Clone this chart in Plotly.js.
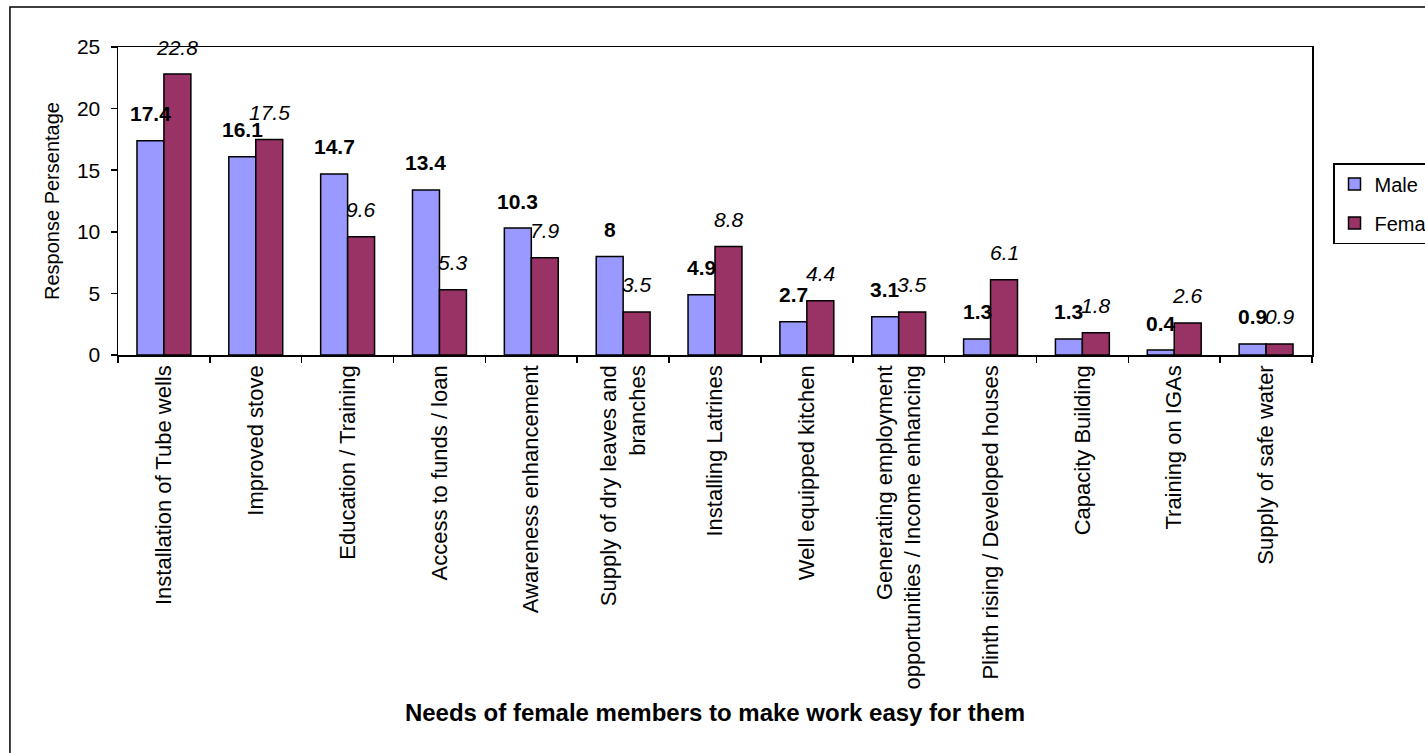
<!DOCTYPE html>
<html>
<head>
<meta charset="utf-8">
<script src="https://cdn.plot.ly/plotly-3.0.1.min.js"></script>
<style>html,body{margin:0;padding:0;background:#fff;}#chart{width:1425px;height:753px;}</style>
</head>
<body>
<div id="chart"></div>
<script>
var categories = [
  "Installation of Tube wells",
  "Improved stove",
  "Education / Training",
  "Access to funds / loan",
  "Awareness enhancement",
  "Supply of dry leaves and<br>branches",
  "Installing Latrines",
  "Well equipped kitchen",
  "Generating employment<br>opportunities / Income enhancing",
  "Plinth rising / Developed houses",
  "Capacity Building",
  "Training on IGAs",
  "Supply of safe water"
];
var maleValues   = [17.4, 16.1, 14.7, 13.4, 10.3, 8, 4.9, 2.7, 3.1, 1.3, 1.3, 0.4, 0.9];
var femaleValues = [22.8, 17.5, 9.6, 5.3, 7.9, 3.5, 8.8, 4.4, 3.5, 6.1, 1.8, 2.6, 0.9];
var yTicks = [0, 5, 10, 15, 20, 25];

var FONT = "'Liberation Sans', Arial, sans-serif";

var traces = [
  {type: "bar", name: "Male", x: categories, y: maleValues, legendgroup: "m",
   marker: {color: "#9999FF", line: {color: "#000000", width: 1.5}}, hoverinfo: "y"},
  {type: "bar", name: "Female", x: categories, y: femaleValues, legendgroup: "f",
   marker: {color: "#993366", line: {color: "#000000", width: 1.5}}, hoverinfo: "y"}
];

var annotations = [];
categories.forEach(function (c, i) {
  annotations.push({x: c, y: maleValues[i], xref: "x", yref: "y", text: String(maleValues[i]),
    showarrow: false, xshift: -13.5, yshift: 27, yanchor: "middle", xanchor: "center",
    font: {family: FONT, size: 21, color: "#000", weight: "bold"}});
  annotations.push({x: c, y: femaleValues[i], xref: "x", yref: "y", text: String(femaleValues[i]),
    showarrow: false, xshift: 13.5, yshift: 27, yanchor: "middle", xanchor: "center",
    font: {family: FONT, size: 21, color: "#000", style: "italic"}});
});

var layout = {
  width: 1425, height: 753,
  margin: {l: 118, r: 113, t: 47, b: 398, autoexpand: false},
  paper_bgcolor: "#ffffff", plot_bgcolor: "#ffffff",
  font: {family: FONT, color: "#000"},
  barmode: "group", bargap: 0.413, bargroupgap: 0,
  showlegend: true,
  legend: {x: 1.0176, xanchor: "left", y: 0.623, yanchor: "top",
    bordercolor: "#000", borderwidth: 1.5, bgcolor: "#fff",
    font: {family: FONT, size: 20, color: "#000"},
    traceorder: "grouped", tracegroupgap: 10, itemwidth: 30},
  xaxis: {
    type: "category", tickangle: -90, tickson: "boundaries",
    ticks: "outside", ticklen: 6, tickcolor: "#000", tickwidth: 1.5,
    showline: true, linecolor: "#000", linewidth: 1.5, mirror: true,
    showgrid: false, zeroline: false, automargin: false,
    tickfont: {family: FONT, size: 22, color: "#000"},
    title: {text: "Needs of female members to make work easy for them",
      font: {family: FONT, size: 24, color: "#000", weight: "bold"}, standoff: 16}
  },
  yaxis: {
    range: [0, 25], tickvals: yTicks, ticktext: yTicks.map(String),
    ticks: "outside", ticklen: 6, tickcolor: "#000", tickwidth: 1.5, ticklabelstandoff: 6,
    showline: true, linecolor: "#000", linewidth: 1.5, mirror: true,
    showgrid: false, zeroline: false, automargin: false,
    tickfont: {family: FONT, size: 21, color: "#000"},
    title: {text: "Response Persentage", font: {family: FONT, size: 20, color: "#000"}, standoff: 12}
  },
  annotations: annotations,
  shapes: [{type: "rect", xref: "paper", yref: "paper", x0: -0.0905, x1: 1.3, y0: -1.5, y1: 1.1299,
    line: {color: "#000", width: 1.5}, fillcolor: "rgba(0,0,0,0)", layer: "below"}]
};

Plotly.newPlot("chart", traces, layout, {displayModeBar: false, staticPlot: true});
</script>
</body>
</html>
